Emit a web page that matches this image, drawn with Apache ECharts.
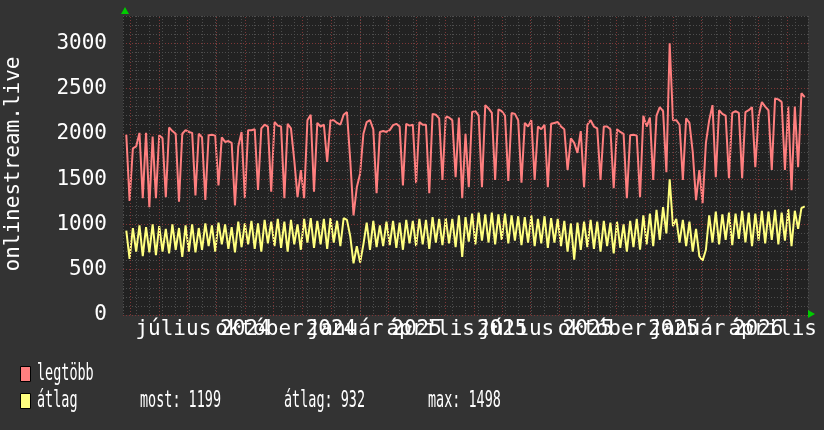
<!DOCTYPE html>
<html><head><meta charset="utf-8">
<script src="https://cdn.jsdelivr.net/npm/echarts@6/dist/echarts.min.js"></script>
<style>html,body{margin:0;padding:0;background:#333333;}#c{width:824px;height:430px;}</style>
</head><body><div id="c"></div>
<script>
// ---- data (daily-ish samples, every 3.5 days) ----
const dayStart = 3.5;
const dayStep = 3.5;
const maxValues = [
1990,1260,1840,1860,2010,1290,2010,1190,1970,1290,
1985,1950,1300,2070,2030,2000,1250,2000,2040,2020,
2010,1320,2000,1960,1270,1985,1990,1980,1430,1960,
1910,1920,1900,1210,1860,2020,1290,2040,2040,2050,
1380,2060,2100,2080,1360,2130,2090,2080,1290,2110,
2060,1710,1300,1600,1290,2150,2210,1360,2120,2080,
2100,1690,2150,2150,2120,2100,2210,2240,1710,1100,
1410,1560,2000,2130,2150,2050,1345,2020,2030,2020,
2040,2096,2110,2080,1430,2110,2090,2100,1456,2130,
2100,2100,1345,2220,2210,2170,1490,2190,2180,2150,
1520,2180,1290,2000,1410,2240,2250,2200,1410,2316,
2280,2230,1490,2270,2250,2200,1480,2230,2220,2150,
1460,2120,2080,2150,1490,2080,2050,2100,1410,2110,
2120,2130,2080,2050,1600,1950,1900,1790,2030,1411,
2100,2150,2080,2060,1490,2080,2080,2050,1400,2050,
2020,2000,1290,1985,1990,1980,1300,2200,2080,2180,
1490,2200,2294,2250,1577,3000,2150,2150,2100,1490,
2170,2120,1800,1268,1600,1235,1900,2150,2316,1520,
2260,2220,2200,1511,2230,2250,2230,1511,2240,2260,
2294,1632,2200,2350,2300,2260,1600,2390,2380,2350,
1600,2300,1378,2300,1632,2448,2404
];
const avgValues = [
930,620,960,700,990,650,970,690,1000,660,
980,700,950,680,1000,720,960,640,990,700,
1000,690,960,720,1010,760,990,700,1020,780,
1000,730,970,690,1030,750,1010,780,1040,730,
1010,700,1050,790,1030,760,1060,740,1030,700,
1050,780,1000,720,1060,800,1070,740,1040,780,
1060,730,1070,800,1040,760,1070,1050,870,570,
760,580,780,1020,720,1040,750,990,760,1030,
770,1040,740,1020,720,1050,790,1040,760,1060,
780,1050,730,1080,800,1060,770,1070,790,1060,
750,1100,640,1080,810,1120,780,1130,820,1110,
800,1130,780,1110,830,1120,790,1100,820,1090,
770,1080,800,1100,760,1060,790,1090,740,1070,
800,1060,760,1040,700,1010,610,1020,720,1030,
750,1050,730,1030,700,1040,760,1020,680,1030,
740,1000,700,1040,750,1060,720,1100,780,1120,
760,1160,830,1190,900,1498,980,1060,800,1050,
760,1030,700,950,650,600,720,1100,800,1140,
780,1110,830,1130,770,1120,840,1150,800,1130,
760,1120,820,1150,790,1140,830,1160,780,1130,
820,1170,760,1150,950,1180,1199
];
const monthLineDays = [8,39,68,99,130,160,190,221,252,282,312,342,373,403,433,464,494,524,555,585,615,645,675,706];
const monthLabels = ['július','október','január','április','július','október','január','április'];
const monthLabelDays = [53.5,145,236.5,327,418,509,600,690.5];
const yearLabels = ['2024','2024','2025','2025','2025','2025','2026'];
const yearLabelDays = [130,221,312,403,494,585,675];
const yTickLabels = [0,500,1000,1500,2000,2500,3000];
const seriesNames = ['legtöbb','átlag'];
const statsLabels = ['most: 1199','átlag: 932','max: 1498'];
const axisTitle = 'onlinestream.live';

const FONT = '"DejaVu Sans Mono", monospace';
const RED = '#ff7f7f', YEL = '#ffff7f';
const toPts = arr => arr.map((v, i) => [dayStart + i * dayStep, v]);

const chart = echarts.init(document.getElementById('c'));
chart.setOption({
  backgroundColor: '#333333',
  animation: false,
  grid: { left: 123, right: 16, top: 16, bottom: 115, show: true, backgroundColor: '#222222', borderWidth: 0,
    containLabel: false, outerBoundsMode: 'none' },
  xAxis: [{
    type: 'value', min: 0, max: 728, interval: 14,
    axisLine: { show: false }, axisTick: { show: false }, axisLabel: { show: false },
    splitLine: { show: true, lineStyle: { color: '#4e4e4e', width: 1, type: [1, 2] } }
  }],
  yAxis: [{
    type: 'value', position: 'left', min: 0, max: 3300, interval: 100,
    axisLine: { show: false }, axisTick: { show: false }, axisLabel: { show: false },
    splitLine: { show: true, lineStyle: { color: '#4e4e4e', width: 1, type: [1, 2] } }
  }, {
    type: 'value', position: 'left', min: 0, max: 3300, interval: 500,
    axisLine: { show: false }, axisTick: { show: false },
    axisLabel: { show: true, color: '#ffffff', fontFamily: FONT, fontSize: 21, margin: 16,
      formatter: v => yTickLabels.includes(v) ? String(v) : '' },
    splitLine: { show: true, showMaxLine: false, lineStyle: { color: '#7e3636', width: 1, type: [1, 2] } }
  }],
  series: [{
    type: 'line', name: 'grid', data: [], xAxisIndex: 0, yAxisIndex: 1, z: 1, silent: true,
    markLine: { silent: true, symbol: ['none', 'none'], label: { show: false },
      lineStyle: { color: '#7e3636', width: 1, type: [1, 2] },
      data: monthLineDays.map(d => ({ xAxis: d })) }
  }, {
    type: 'line', name: seriesNames[0], data: toPts(maxValues), xAxisIndex: 0, yAxisIndex: 1,
    showSymbol: false, z: 3, lineStyle: { color: RED, width: 2 }, itemStyle: { color: RED }
  }, {
    type: 'line', name: seriesNames[1], data: toPts(avgValues), xAxisIndex: 0, yAxisIndex: 1,
    showSymbol: false, z: 3, lineStyle: { color: YEL, width: 2 }, itemStyle: { color: YEL }
  }]
});

const px = d => chart.convertToPixel({ xAxisIndex: 0 }, d);
const labelStyle = (t) => ({ text: t, font: '21px ' + FONT, fill: '#ffffff', align: 'center', verticalAlign: 'middle' });
const graphics = [];
monthLabels.forEach((t, i) => graphics.push({ type: 'text', x: px(monthLabelDays[i]), y: 330, style: labelStyle(t) }));
yearLabels.forEach((t, i) => graphics.push({ type: 'text', x: px(yearLabelDays[i]), y: 330, style: labelStyle(t) }));
graphics.push({ type: 'text', x: 14, y: 164, rotation: Math.PI / 2, style: labelStyle(axisTitle) });
// arrows
graphics.push({ type: 'polygon', shape: { points: [[121, 14], [129, 14], [125, 7]] }, style: { fill: '#00cc00' } });
graphics.push({ type: 'polygon', shape: { points: [[808, 310], [808, 318], [815, 314]] }, style: { fill: '#00cc00' } });
// legend
const LSX = 0.585;
const legStyle = (t) => ({ text: t, font: '23px ' + FONT, fill: '#ffffff', align: 'left', verticalAlign: 'middle' });
graphics.push({ type: 'rect', shape: { x: 20.5, y: 366.5, width: 10, height: 15 }, style: { fill: RED, stroke: '#000', lineWidth: 1 } });
graphics.push({ type: 'rect', shape: { x: 20.5, y: 393.5, width: 10, height: 15 }, style: { fill: YEL, stroke: '#000', lineWidth: 1 } });
graphics.push({ type: 'text', x: 37, y: 374, scaleX: LSX, style: legStyle(seriesNames[0]) });
graphics.push({ type: 'text', x: 37, y: 401, scaleX: LSX, style: legStyle(seriesNames[1]) });
[140, 284, 428].forEach((x, i) => graphics.push({ type: 'text', x: x, y: 401, scaleX: LSX, style: legStyle(statsLabels[i]) }));
chart.setOption({ graphic: graphics });
</script>
</body></html>
